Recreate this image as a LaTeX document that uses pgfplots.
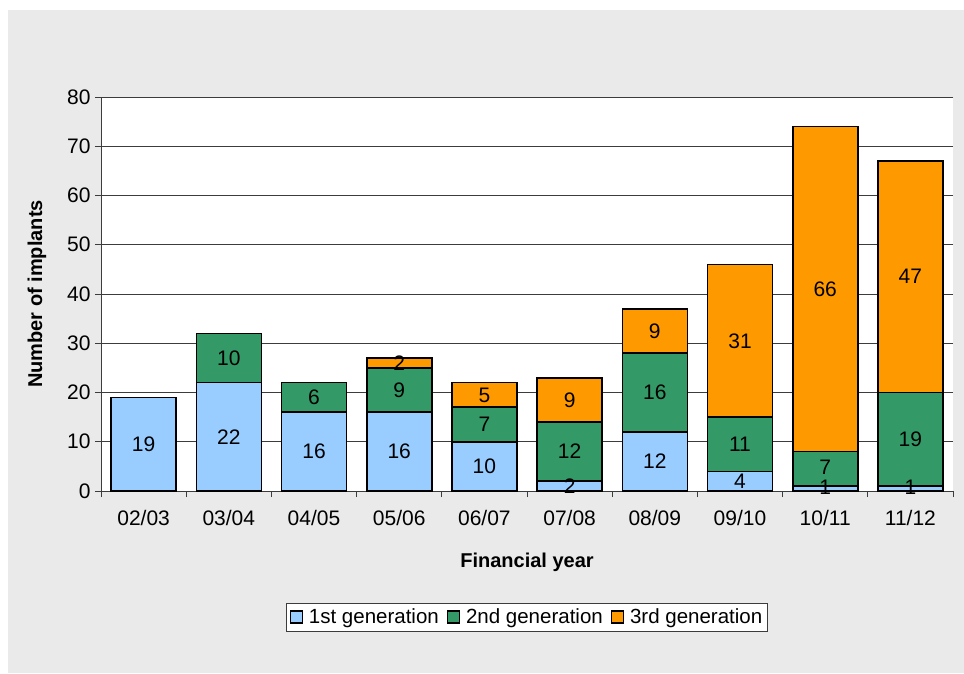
\documentclass[border=0pt]{standalone}
\usepackage{fontspec}
\setmainfont{Liberation Sans}
\usepackage{pgfplots}
\pgfplotsset{compat=1.18}
\usepackage{pgfplotstable}
\definecolor{bggray}{RGB}{234,234,234}
\definecolor{genA}{RGB}{153,204,255}
\definecolor{genB}{RGB}{51,153,102}
\definecolor{genC}{RGB}{255,153,0}
\definecolor{gridc}{RGB}{60,60,60}
\pgfplotstableread{
x a b c
0 19 0 0
1 22 10 0
2 16 6 0
3 16 9 2
4 10 7 5
5 2 12 9
6 12 16 9
7 4 11 31
8 1 7 66
9 1 19 47
}\datatable
\pgfplotstableread{
x y lab
0 9.5 19
1 11 22
1 27 10
2 8 16
2 19 6
3 8 16
3 20.5 9
3 26 2
4 5 10
4 13.5 7
4 19.5 5
5 1 2
5 8 12
5 18.5 9
6 6 12
6 20 16
6 32.5 9
7 2 4
7 9.5 11
7 30.5 31
8 0.7 1
8 4.8 7
8 41 66
9 0.7 1
9 10.5 19
9 43.5 47
}\labtable
\begin{document}
\begin{tikzpicture}
\fill[white] (0pt,0pt) rectangle (964pt,673pt);
\fill[bggray] (8pt,0pt) rectangle (964pt,663pt);
\useasboundingbox (0pt,0pt) rectangle (964pt,673pt);
\pgfplotsset{legsq/.style={legend image code/.code={\draw[##1,line width=1.2pt] (0pt,-6pt) rectangle (12pt,6pt);}}}
\begin{axis}[
  at={(101pt,182pt)}, anchor=south west,
  scale only axis, width=852pt, height=394pt,
  ybar stacked, bar width=65pt,
  xmin=-0.5, xmax=9.5, ymin=0, ymax=80,
  ytick={0,10,...,80},
  xtick={0,...,9},
  xticklabels={02/03,03/04,04/05,05/06,06/07,07/08,08/09,09/10,10/11,11/12},
  minor xtick={-0.5,0.5,...,9.5},
  major x tick style={draw=none},
  minor tick length=6pt, major tick length=6pt,
  tick align=outside,
  tick style={gridc, line width=0.8pt},
  axis x line*=bottom, axis y line*=left,
  axis line style={gridc, line width=1pt, -},
  ymajorgrids, grid style={gridc, line width=0.8pt},
  axis background/.style={fill=white},
  /pgf/number format/assume math mode=true,
  tick label style={font=\fontsize{21}{24}\selectfont},
  xticklabel style={yshift=-10pt},
  yticklabel style={xshift=-1pt},
  xlabel={Financial year}, ylabel={Number of implants},
  label style={font=\fontsize{20}{24}\selectfont\bfseries},
  xlabel style={yshift=-20pt},
  ylabel style={yshift=14pt},
  legend columns=3,
  legend style={at={(0.5,-0.32)}, anchor=center, draw=gridc, line width=0.8pt, fill=white,
    font=\fontsize{20.5}{24}\selectfont, inner xsep=3pt, inner ysep=4pt,
    /tikz/every even column/.append style={column sep=6pt},
    /tikz/every odd column/.append style={column sep=4pt}},
  legend cell align=left,
]
\addplot[fill=genA, draw=black, line width=1.6pt, legsq] table[x=x,y=a] {\datatable};
\addplot[fill=genB, draw=black, line width=1.6pt, legsq] table[x=x,y=b] {\datatable};
\addplot[fill=genC, draw=black, line width=1.6pt, legsq] table[x=x,y=c] {\datatable};
\legend{1st generation,2nd generation,3rd generation}
\end{axis}
\begin{axis}[
  at={(101pt,182pt)}, anchor=south west,
  scale only axis, width=852pt, height=394pt,
  xmin=-0.5, xmax=9.5, ymin=0, ymax=80,
  hide axis, clip=false,
]
\addplot[draw=none, mark=none, nodes near coords, point meta=explicit symbolic,
  every node near coord/.append style={anchor=center, font=\fontsize{21}{24}\selectfont, text=black}]
  table[x=x,y=y,meta=lab] {\labtable};
\end{axis}
\end{tikzpicture}
\end{document}
